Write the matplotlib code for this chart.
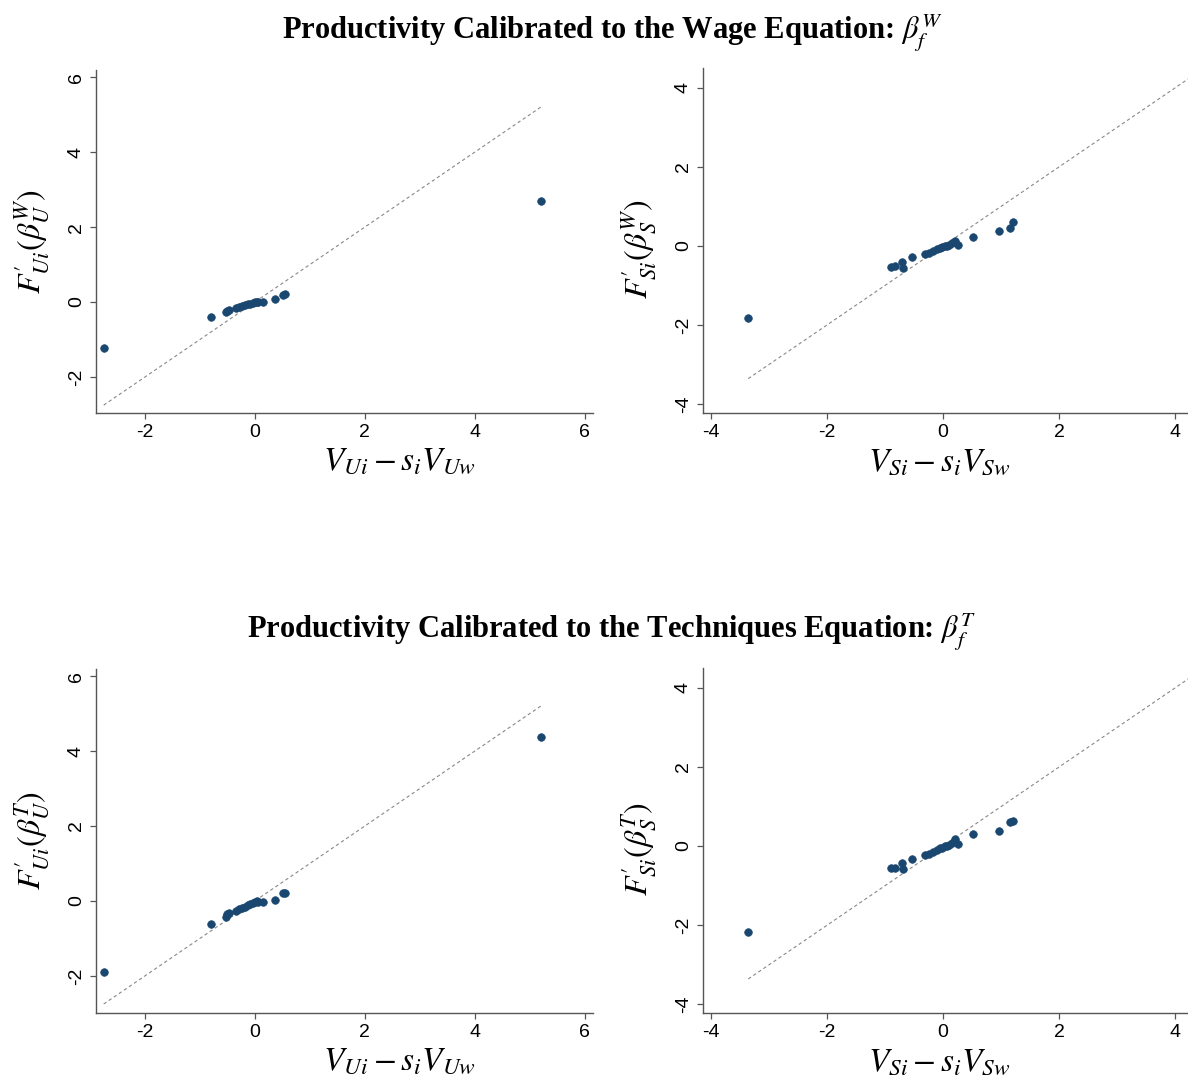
import numpy as np
import matplotlib
matplotlib.use("Agg")
import matplotlib.pyplot as plt

# ---- data ----
x_U = [-2.75, -0.79, -0.53, -0.50, -0.47, -0.35, -0.28, -0.24, -0.18, -0.12,
       -0.08, -0.04, 0.00, 0.03, 0.06, 0.14, 0.36, 0.52, 0.55, 5.20]
y_UW = [-1.23, -0.41, -0.26, -0.23, -0.20, -0.17, -0.14, -0.11, -0.08, -0.06,
        -0.04, -0.02, 0.00, 0.01, 0.00, 0.00, 0.08, 0.19, 0.21, 2.69]
y_UT = [-1.89, -0.62, -0.42, -0.36, -0.31, -0.26, -0.22, -0.20, -0.15, -0.11,
        -0.08, -0.05, -0.03, -0.01, -0.02, -0.03, 0.03, 0.21, 0.22, 4.37]

x_S = [-3.36, -0.90, -0.83, -0.71, -0.70, -0.54, -0.31, -0.25, -0.17, -0.11,
       -0.05, -0.02, 0.03, 0.06, 0.10, 0.15, 0.21, 0.25, 0.52, 0.97, 1.16, 1.20]
y_SW = [-1.82, -0.54, -0.52, -0.42, -0.55, -0.29, -0.21, -0.17, -0.14, -0.08,
        -0.05, -0.04, -0.01, 0.00, 0.03, 0.07, 0.13, 0.03, 0.22, 0.37, 0.45, 0.60]
y_ST = [-2.17, -0.55, -0.55, -0.44, -0.58, -0.33, -0.23, -0.19, -0.14, -0.09,
        -0.05, -0.04, -0.01, 0.00, 0.03, 0.07, 0.19, 0.05, 0.30, 0.39, 0.61, 0.63]

ticks_U = [-2, 0, 2, 4, 6]
ticks_S = [-4, -2, 0, 2, 4]

title_W = r"Productivity Calibrated to the Wage Equation: $\beta_f^W$"
title_T = r"Productivity Calibrated to the Techniques Equation: $\beta_f^T$"

plt.rcParams['mathtext.fontset'] = 'stix'
plt.rcParams['axes.unicode_minus'] = False

W, H = 1188, 1076
fig = plt.figure(figsize=(W / 100, H / 100), dpi=100)

def add_ax(l, r, t, b):
    return fig.add_axes([l / W, 1 - b / H, (r - l) / W, (b - t) / H])

NAVY = '#1a476f'
SPINE = '#555555'

def style(ax, xticks, yticks, xlim, ylim, xlabel, ylabel, xlab_pos, ylab_pos):
    ax.set_xlim(*xlim)
    ax.set_ylim(*ylim)
    ax.set_xticks(xticks)
    ax.set_yticks(yticks)
    ax.set_xticklabels([str(t) for t in xticks], family='Liberation Sans', fontsize=14)
    ax.set_yticklabels([str(t) for t in yticks], rotation=90, va='center',
                       family='Liberation Sans', fontsize=14)
    for s in ['top', 'right']:
        ax.spines[s].set_visible(False)
    for s in ['left', 'bottom']:
        ax.spines[s].set_color(SPINE)
        ax.spines[s].set_linewidth(1.0)
    ax.tick_params(direction='out', length=4, width=0.9, color=SPINE,
                   labelcolor='black', pad=4)
    ax.set_xlabel(xlabel, fontsize=24, labelpad=1)
    ax.set_ylabel(ylabel, fontsize=23, labelpad=12)
    ax.xaxis.set_label_coords(xlab_pos, -0.09)
    ax.yaxis.label.set_y(ylab_pos)

def panel(ax, x, y, line_lo, line_hi):
    ax.plot([line_lo, line_hi], [line_lo, line_hi], color='#888888', lw=0.8,
            ls=(0, (3, 2.5)), zorder=1)
    ax.scatter(x, y, s=30, color=NAVY, edgecolors=NAVY, linewidths=0.5, zorder=3)

xl_U = r"$V_{Ui}-s_iV_{Uw}$"
xl_S = r"$V_{Si}-s_iV_{Sw}$"

# top-left
ax1 = add_ax(96, 593, 70, 413)
panel(ax1, x_U, y_UW, min(x_U), max(x_U))
style(ax1, ticks_U, ticks_U, (-2.89, 6.15), (-2.96, 6.19), xl_U,
      r"$F^{\prime}_{Ui}(\beta_U^W)$", 0.61, 0.5)

# top-right
ax2 = add_ax(703, 1188, 68, 413)
panel(ax2, x_S, y_SW, min(x_S), max(x_U))
style(ax2, ticks_S, ticks_S, (-4.14, 4.22), (-4.23, 4.5), xl_S,
      r"$F^{\prime}_{Si}(\beta_S^W)$", 0.487, 0.475)

# bottom-left
ax3 = add_ax(96, 593, 669, 1013)
panel(ax3, x_U, y_UT, min(x_U), max(x_U))
style(ax3, ticks_U, ticks_U, (-2.89, 6.15), (-2.99, 6.19), xl_U,
      r"$F^{\prime}_{Ui}(\beta_U^T)$", 0.61, 0.5)

# bottom-right
ax4 = add_ax(703, 1188, 668, 1013)
panel(ax4, x_S, y_ST, min(x_S), max(x_U))
style(ax4, ticks_S, ticks_S, (-4.14, 4.22), (-4.22, 4.5), xl_S,
      r"$F^{\prime}_{Si}(\beta_S^T)$", 0.487, 0.475)

fig.text(612 / W, 1 - 33 / H, title_W, ha='center', va='center', fontsize=22,
         fontweight='bold', family='Liberation Serif')
fig.text(612 / W, 1 - 632 / H, title_T, ha='center', va='center', fontsize=22,
         fontweight='bold', family='Liberation Serif')

fig.savefig('out.png', dpi=100, facecolor='white')
